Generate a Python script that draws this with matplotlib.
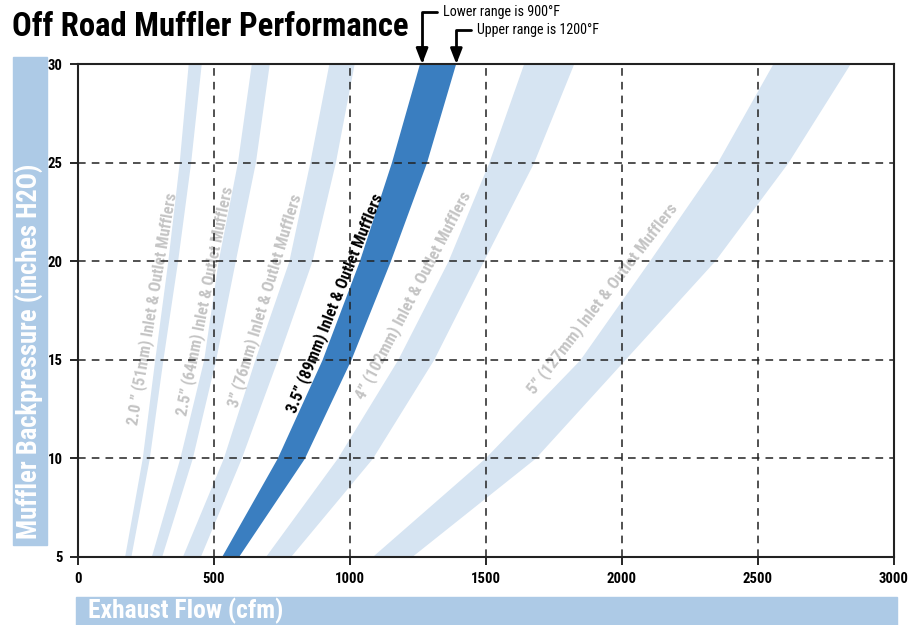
import matplotlib
matplotlib.use("Agg")
import matplotlib.pyplot as plt
from matplotlib.patches import Rectangle

# ---------------- data ----------------
y_levels = [5, 10, 15, 20, 25, 30]

band_names = ["2.0 ” (51mm) Inlet & Outlet Mufflers",
              "2.5” (64mm) Inlet & Outlet Mufflers",
              "3” (76mm) Inlet & Outlet Mufflers",
              "3.5” (89mm) Inlet & Outlet Mufflers",
              "4” (102mm) Inlet & Outlet Mufflers",
              "5” (127mm) Inlet & Outlet Mufflers"]

# flow (cfm) at each backpressure level: lower range (900F) and upper range (1200F)
lower_20 = [171, 236, 282, 330, 372, 405]
upper_20 = [194, 262, 312, 366, 414, 453]
lower_25 = [269, 374, 462, 515, 586, 637]
upper_25 = [307, 420, 506, 578, 652, 703]
lower_30 = [383, 534, 650, 775, 852, 922]
upper_30 = [449, 600, 733, 860, 946, 1015]
lower_35 = [527, 732, 897, 1034, 1152, 1255]
upper_35 = [589, 832, 1003, 1148, 1281, 1388]
lower_40 = [688, 953, 1175, 1360, 1510, 1638]
upper_40 = [780, 1082, 1307, 1490, 1675, 1822]
lower_50 = [1080, 1495, 1845, 2100, 2350, 2554]
upper_50 = [1225, 1680, 2010, 2340, 2610, 2838]

lowers = [lower_20, lower_25, lower_30, lower_35, lower_40, lower_50]
uppers = [upper_20, upper_25, upper_30, upper_35, upper_40, upper_50]

# label anchor (data coords) and screen rotation
label_x = [272, 467, 688, 942, 1233, 1929]
label_y = [17.6, 18.0, 18.0, 17.9, 18.3, 18.1]
label_rot = [80.5, 78.6, 73.3, 68.2, 62.5, 52.4]

x_ticks = [0, 500, 1000, 1500, 2000, 2500, 3000]
y_ticks = [5, 10, 15, 20, 25, 30]

lower_note = "Lower range is 900°F"
upper_note = "Upper range is 1200°F"
note_x = [1265, 1391]

# ---------------- styling ----------------
FONT = ["Roboto Condensed", "Arial Narrow", "Liberation Sans Narrow", "Roboto", "DejaVu Sans"]
plt.rcParams["font.family"] = FONT
LIGHT = "#d6e4f2"
DARK = "#3a7ec0"
BOX = "#adcae6"
GRAYTXT = "#c4c4c4"

W, H = 912, 625
fig = plt.figure(figsize=(W / 100, H / 100), dpi=100)
renderer = fig.canvas.get_renderer()


def fit_width(t, target_px):
    """Scale a text's font size so its unrotated length matches target_px."""
    rot = t.get_rotation()
    t.set_rotation(0)
    for _ in range(3):
        w = t.get_window_extent(renderer).width
        if w > 0:
            t.set_fontsize(t.get_fontsize() * target_px / w)
    t.set_rotation(rot)
    return t


ax = fig.add_axes([78 / W, 1 - 557 / H, (894 - 78) / W, (557 - 64) / H])

for i, (lo, up) in enumerate(zip(lowers, uppers)):
    col = DARK if i == 3 else LIGHT
    ax.fill_betweenx(y_levels, lo, up, color=col, lw=0, zorder=1)

label_len = [236, 233, 223, 237, 232, 237]
for i, name in enumerate(band_names):
    t = ax.text(label_x[i], label_y[i], name, rotation=label_rot[i],
                rotation_mode="anchor", ha="center", va="center",
                fontsize=11, fontweight="bold",
                color="black" if i == 3 else GRAYTXT, zorder=2)
    fit_width(t, label_len[i])

ax.set_xlim(0, 3000)
ax.set_ylim(5, 30)
ax.set_xticks(x_ticks)
ax.set_yticks(y_ticks)
ax.grid(True, color="#222222", linestyle=(0, (5, 4)), lw=1.1, zorder=3)
ax.set_axisbelow(False)
for s in ax.spines.values():
    s.set_linewidth(1.5)
    s.set_color("#222222")
    s.set_zorder(4)

# tick label size fitted so that "1000" is ~30 px wide
probe = fig.text(0, 0, "1000", fontsize=11, fontweight="heavy")
fit_width(probe, 30)
tick_fs = probe.get_fontsize()
probe.remove()
ax.tick_params(direction="out", length=6, width=1.2, labelsize=tick_fs, pad=5)
for lab in ax.get_xticklabels() + ax.get_yticklabels():
    lab.set_fontweight("heavy")

# title
t = fig.text(12 / W, 1 - 27 / H, "Off Road Muffler Performance", ha="left", va="center",
             fontsize=25, fontweight="heavy")
fit_width(t, 396)

# range notes with arrows
for note, nx, tx, ty, tw in [(lower_note, note_x[0], 443, H - 12, 142),
                             (upper_note, note_x[1], 477, H - 30, 146)]:
    a = ax.annotate(note, xy=(nx, 30), xycoords="data",
                    xytext=(tx, ty), textcoords="figure pixels",
                    ha="left", va="center", fontsize=11,
                    arrowprops=dict(arrowstyle="-|>,head_length=0.9,head_width=0.35",
                                    connectionstyle="angle,angleA=180,angleB=90,rad=0",
                                    color="black", lw=2, shrinkA=2, shrinkB=0))
    fit_width(a, tw)

# axis title boxes
fig.patches.append(Rectangle((13 / W, 1 - 545 / H), 34 / W, 488 / H,
                             transform=fig.transFigure, color=BOX, zorder=0))
t = fig.text(30 / W, 1 - 539 / H, "Muffler Backpressure (inches H2O)", rotation=90,
             ha="center", va="bottom", fontsize=19, fontweight="bold", color="white")
fit_width(t, 376)
fig.patches.append(Rectangle((76 / W, 0), 821 / W, 28 / H,
                             transform=fig.transFigure, color=BOX, zorder=0))
t = fig.text(88 / W, 1 - 611 / H, "Exhaust Flow (cfm)", ha="left", va="center",
             fontsize=18, fontweight="bold", color="white")
fit_width(t, 195)

fig.savefig("out.png", dpi=100)
